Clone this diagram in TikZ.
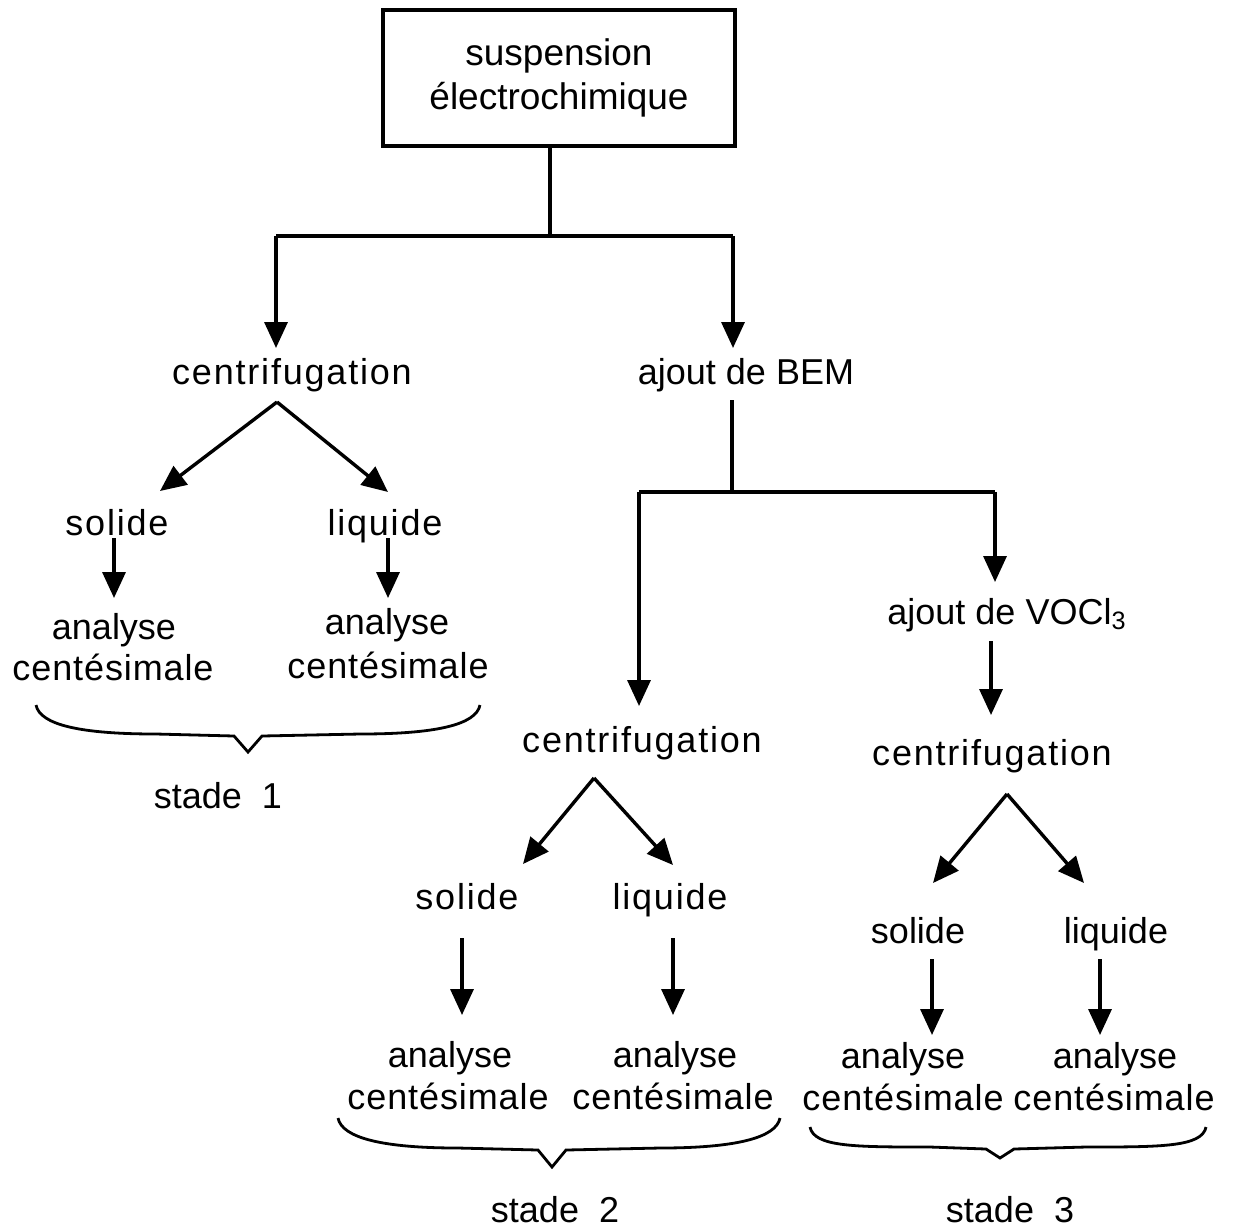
\documentclass[tikz,border=0pt]{standalone}
\usepackage{fontspec}
\setmainfont{Liberation Sans}
\newfontfamily\trk[LetterSpace=5]{Liberation Sans}
\newfontfamily\trs[LetterSpace=2.5]{Liberation Sans}
\usetikzlibrary{arrows.meta}
\newcommand\stagebrace[6]{% Lx, y, Rx, tipx, flaty, tipy
  \draw[brc] (#1,#2) .. controls ({#1+4},{#2+20}) and ({#1+45},#5) .. ({#1+120},#5)
    -- ({#4-14},{#5+2}) -- (#4,#6) -- ({#4+14},{#5+2}) -- ({#3-120},#5)
    .. controls ({#3-45},#5) and ({#3-4},{#2+20}) .. (#3,#2);}
\begin{document}
\begin{tikzpicture}[x=0.5pt,y=-0.5pt,
  lbl/.style={font=\fontsize{18}{21}\selectfont, inner sep=0pt, anchor=base},
  tlbl/.style={font=\fontsize{18}{21}\selectfont\trk, inner sep=0pt, anchor=base},
  slbl/.style={font=\fontsize{18}{21}\selectfont\trs, inner sep=0pt, anchor=base},
  conn/.style={line width=1.7pt},
  arr/.style={conn,-{Triangle[length=13pt,width=11.5pt]}},
  brc/.style={line width=1.4pt, line join=miter}]
\useasboundingbox (0,0) rectangle (1234,1231);

% top box
\node[draw, line width=1.7pt, minimum width=176pt, minimum height=68pt, inner sep=0pt,
      align=center, font=\fontsize{18.5}{22}\selectfont] (top) at (559,78)
      {suspension\\électrochimique};

% stage 1 branch
\node[tlbl] (c1) at (292,384) {centrifugation};
\node[lbl] (bem) at (746,384) {ajout de BEM};
\node[tlbl] (s1) at (117,535) {solide};
\node[tlbl] (l1) at (385,535) {liquide};
\node[lbl] (a1) at (114,639) {analyse};
\node[slbl] (m1) at (113,680) {centésimale};
\node[lbl] (a1r) at (387,634) {analyse};
\node[slbl] (m1r) at (388,678) {centésimale};
\node[lbl] (st1) at (218,808) {stade\ \ 1};

% stage 2
\node[tlbl] (c2) at (642,752) {centrifugation};
\node[tlbl] (s2) at (467,909) {solide};
\node[tlbl] (l2) at (670,909) {liquide};
\node[lbl] (a2) at (450,1067) {analyse};
\node[slbl] (m2) at (448,1109) {centésimale};
\node[lbl] (a2r) at (675,1067) {analyse};
\node[slbl] (m2r) at (673,1109) {centésimale};
\node[lbl] (st2) at (555,1222) {stade\ \ 2};

% stage 3
\node[lbl] (voc) at (1007,624) {ajout de VOCl\textsubscript{3}};
\node[tlbl] (c3) at (992,765) {centrifugation};
\node[lbl] (s3) at (918,943) {solide};
\node[lbl] (l3) at (1116,943) {liquide};
\node[lbl] (a3) at (903,1068) {analyse};
\node[slbl] (m3) at (903,1110) {centésimale};
\node[lbl] (a3r) at (1115,1068) {analyse};
\node[slbl] (m3r) at (1114,1110) {centésimale};
\node[lbl] (st3) at (1010,1222) {stade\ \ 3};

% junction coordinates
\coordinate (j0) at (550,236);
\coordinate (jL) at (276,236);
\coordinate (jR) at (733,236);
\coordinate (tc1) at (276,348);
\coordinate (tbem) at (733,348);
\coordinate (p1) at (277,402);
\coordinate (p1s) at (160,491);
\coordinate (p1l) at (388,492);
\coordinate (b0) at (732,400);
\coordinate (bj) at (732,492);
\coordinate (bL) at (639,492);
\coordinate (bR) at (995,492);
\coordinate (tc2) at (639,706);
\coordinate (tvoc) at (995,582);
\coordinate (p2) at (594,778);
\coordinate (p2s) at (523,864);
\coordinate (p2l) at (673,865);
\coordinate (p3) at (1007,794);
\coordinate (p3s) at (933,883);
\coordinate (p3l) at (1084,883);

% connectors
\draw[conn] (j0 |- top.south) -- (j0);
\draw[conn] (jL) -- (jR);
\draw[arr] (jL) -- (tc1);
\draw[arr] (jR) -- (tbem);
\draw[arr] (p1) -- (p1s);
\draw[arr] (p1) -- (p1l);
\draw[arr] (114,538) -- (114,598);
\draw[arr] (388,538) -- (388,598);

\draw[conn] (b0) -- (bj);
\draw[conn] (bL) -- (bR);
\draw[arr] (bL) -- (tc2);
\draw[arr] (bR) -- (tvoc);
\draw[arr] (991,641) -- (991,715);

\draw[arr] (p2) -- (p2s);
\draw[arr] (p2) -- (p2l);
\draw[arr] (462,938) -- (462,1015);
\draw[arr] (673,938) -- (673,1015);

\draw[arr] (p3) -- (p3s);
\draw[arr] (p3) -- (p3l);
\draw[arr] (932,959) -- (932,1035);
\draw[arr] (1100,959) -- (1100,1035);

% braces
\stagebrace{36}{705}{480}{248}{734}{752}
\stagebrace{338}{1118}{780}{552}{1148}{1167}
\stagebrace{810}{1127}{1206}{1000}{1147}{1158}
\end{tikzpicture}
\end{document}
